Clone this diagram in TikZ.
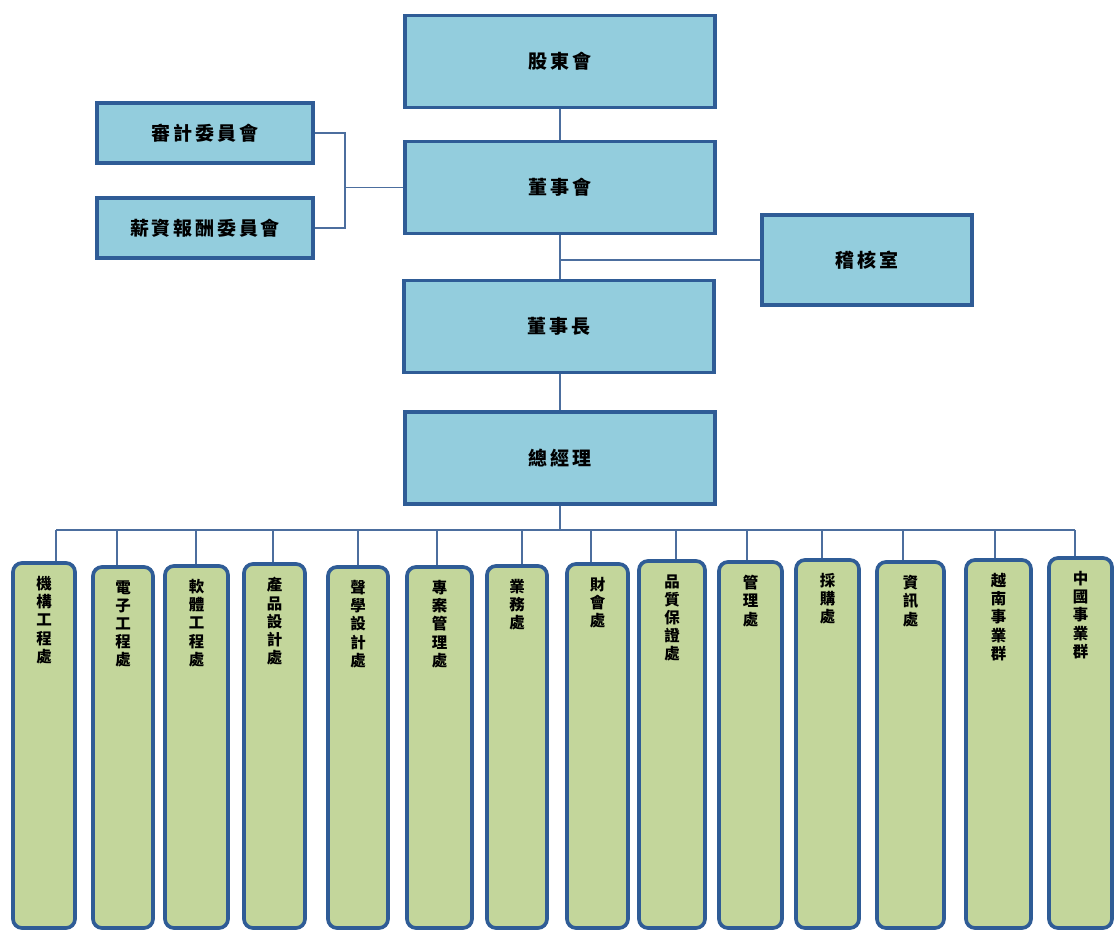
\documentclass[tikz,border=0pt]{standalone}
\usepackage{fontspec}
\usepackage{xcolor}
\usetikzlibrary{positioning,calc}
\newfontfamily\cjk{Noto Sans CJK TC}[LetterSpace=15]
\newfontfamily\cjkv{Noto Sans CJK TC}
\definecolor{BoxBlue}{HTML}{93CDDD}
\definecolor{EdgeBlue}{HTML}{2F5C96}
\definecolor{BoxGreen}{HTML}{C3D69B}
\definecolor{LinkBlue}{HTML}{4C6E9E}
\newcommand{\pxu}{0.025cm}

\begin{document}
\begin{tikzpicture}[
    x=0.025cm, y=-0.025cm,
    box/.style={draw=EdgeBlue, line width=2.6pt, fill=BoxBlue, inner sep=0pt,
      minimum width=310*\pxu, minimum height=92*\pxu, align=center,
      font=\cjk\bfseries\fontsize{13.5}{16}\selectfont},
    cbox/.style={box, minimum width=216*\pxu, minimum height=60*\pxu},
    dept/.style={draw=EdgeBlue, line width=2.6pt, fill=BoxGreen, rounded corners=9*\pxu, inner sep=0pt},
    vtext/.style={align=center, inner sep=0pt, anchor=north,
      font=\cjkv\bfseries\fontsize{11}{12.9}\selectfont},
    link/.style={draw=LinkBlue, line width=0.9pt}
  ]
    \useasboundingbox (0,0) rectangle (1114,931);

    % board and management chain
    \node[box] (gdh) at (560,61.5) {股東會};
    \node[box] (dsh) at (560,187.5) {董事會};
    \node[box] (dsz) at (559,326.5) {董事長};
    \node[box] (zjl) at (560,458) {總經理};
    \node[box, minimum width=210*\pxu, minimum height=90*\pxu] (jhs) at (867,260) {稽核室};
    \node[cbox] (sjw) at (205,133) {審計委員會};
    \node[cbox] (xzw) at (205,228) {薪資報酬委員會};

    \draw[link] (gdh.south) -- (dsh.north);
    \draw[link] (dsh.south) -- (dsh.south |- dsz.north);
    \draw[link] (zjl.north |- dsz.south) -- (zjl.north);
    \coordinate (aud) at (dsh.south |- jhs.west);
    \draw[link] (aud) -- (jhs.west);
    \coordinate (cmt) at (345,187.5);
    \draw[link] (sjw.east) -| (cmt) |- (xzw.east);
    \draw[link] (cmt) -- (dsh.west);

    % departments
    \foreach \i/\l/\r/\t/\d/\txt in {
        1/13/75/563/56/{機\\構\\工\\程\\處},
        2/93/153/567/117/{電\\子\\工\\程\\處},
        3/165/228/566/196/{軟\\體\\工\\程\\處},
        4/244/305/564/273/{產\\品\\設\\計\\處},
        5/328/388/567/358/{聲\\學\\設\\計\\處},
        6/407/472/567/437/{專\\案\\管\\理\\處},
        7/487/547/566/522/{業\\務\\處},
        8/567/628/564/591/{財\\會\\處},
        9/639/705/561/676/{品\\質\\保\\證\\處},
        10/719/782/562/747/{管\\理\\處},
        11/796/859/560/822/{採\\購\\處},
        12/877/944/562/903/{資\\訊\\處},
        13/966/1031/560/995/{越\\南\\事\\業\\群},
        14/1049/1112/558/1075/{中\\國\\事\\業\\群}} {
      \node[dept, minimum width={(\r-\l)*\pxu}, minimum height={(928-\t)*\pxu}]
        (m\i) at ({(\l+\r)/2},{(\t+928)/2}) {};
      \node[vtext] (t\i) at ([yshift=-15*\pxu]m\i.north) {\txt};
      \coordinate (d\i) at (\d,530);
      \draw[link] (d\i) -- (d\i |- m\i.north);
    }
    \draw[link] (d1) -- (d14);
    \draw[link] (zjl.south) -- (zjl.south |- d1);
  \end{tikzpicture}
\end{document}
